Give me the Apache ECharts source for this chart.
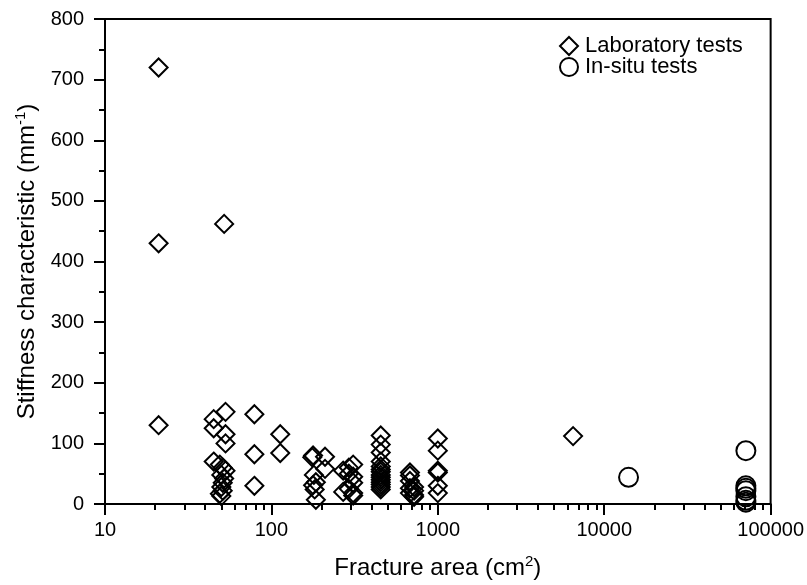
<!DOCTYPE html>
<html>
<head>
<meta charset="utf-8">
<script src="https://cdn.jsdelivr.net/npm/echarts@6/dist/echarts.min.js"></script>
<style>html,body{margin:0;padding:0;background:#fff}#c{width:807px;height:585px}</style>
</head>
<body>
<div id="c"></div>
<script>
// Laboratory tests: fracture area (cm2) and stiffness characteristic (mm-1)
const labArea = [
  21, 21, 21,
  52,
  45, 45, 45,
  53, 53, 53,
  49, 51, 53, 50, 52, 51, 50, 51, 49, 50,
  79, 79, 79,
  113, 113,
  178, 176, 180, 178, 182,
  185, 185,
  210, 210,
  270, 270,
  292, 292, 292,
  310, 310, 310, 310, 310,
  454, 454, 454, 454, 454, 454, 454, 454, 454, 454, 454, 454, 454, 454,
  680, 680, 680, 680, 680,
  720, 720, 720, 720,
  1000, 1000, 1000, 1000, 1000, 1000,
  6500
];
const labStiffness = [
  720, 430, 130,
  462,
  140, 125, 70,
  152, 115, 100,
  65, 60, 55, 48, 42, 35, 28, 22, 17, 13,
  148, 82, 30,
  115, 84,
  80, 77, 48, 31, 24,
  7, 36,
  78, 58,
  55, 20,
  50, 25, 60,
  65, 45, 35, 18, 14,
  113, 98, 85, 70, 62, 57, 53, 48, 44, 40, 36, 32, 28, 24,
  52, 47, 38, 26, 18,
  22, 15, 28, 12,
  108, 88, 55, 52, 30, 18,
  112
];
// In-situ tests
const situArea = [14000, 71000, 71000, 71000, 71000, 71000, 71000, 71000];
const situStiffness = [44, 88, 30, 26, 22, 12, 6, 3];

const seriesNames = ['Laboratory tests', 'In-situ tests'];
const xTickLabels = ['10', '100', '1000', '10000', '100000'];
const yTickLabels = ['0', '100', '200', '300', '400', '500', '600', '700', '800'];

// minor log ticks (2..9 within each decade), in log10 space for the overlay axis
const minorLogTicks = [];
for (let d = 1; d < 5; d++) {
  for (let m = 2; m <= 9; m++) minorLogTicks.push(d + Math.log10(m));
}

const pair = (xs, ys) => xs.map((x, i) => [x, ys[i]]);
const font = 'Liberation Sans, Arial, sans-serif';
const titleRich = {
  a: {fontFamily: font, fontSize: 24, color: '#000', lineHeight: 28},
  s: {fontFamily: font, fontSize: 15, color: '#000', lineHeight: 15, verticalAlign: 'top'}
};
const chart = echarts.init(document.getElementById('c'), null, {renderer: 'canvas'});
chart.setOption({
  animation: false,
  backgroundColor: '#fff',
  grid: {left: 105, right: 35, top: 19, bottom: 81, show: true, borderColor: '#000', borderWidth: 2, backgroundColor: 'transparent'},
  legend: {
    orient: 'vertical', left: 554, top: 30, itemWidth: 18, itemHeight: 18, itemGap: -1,
    data: seriesNames,
    textStyle: {fontFamily: font, fontSize: 22, color: '#000', lineHeight: 18, padding: [0, 0, 0, 2]}
  },
  xAxis: [{
    type: 'log', logBase: 10, min: 10, max: 100000, position: 'bottom',
    name: '{a|Fracture area (cm}{s|2}{a|)}', nameLocation: 'middle', nameGap: 50,
    nameTextStyle: {rich: titleRich},
    axisLine: {show: true, lineStyle: {color: '#000', width: 2}},
    axisTick: {show: true, inside: false, length: 11, lineStyle: {color: '#000', width: 2}},
    minorTick: {show: false},
    splitLine: {show: false},
    axisLabel: {fontFamily: font, fontSize: 20, color: '#000', margin: 16,
      formatter: v => xTickLabels[Math.round(Math.log10(v)) - 1] || ''}
  }, {
    type: 'value', min: 1, max: 5, position: 'bottom',
    axisLine: {show: false},
    axisTick: {show: true, inside: false, length: 6, customValues: minorLogTicks, lineStyle: {color: '#000', width: 2}},
    axisLabel: {show: false},
    splitLine: {show: false}
  }],
  yAxis: {
    type: 'value', min: 0, max: 800, interval: 100,
    name: '{a|Stiffness characteristic (mm}{s|-1}{a|)}', nameLocation: 'middle', nameGap: 64,
    nameTextStyle: {rich: titleRich},
    axisLine: {show: true, lineStyle: {color: '#000', width: 2}},
    axisTick: {show: true, inside: false, length: 11, lineStyle: {color: '#000', width: 2}},
    minorTick: {show: true, splitNumber: 2, length: 6, lineStyle: {color: '#000', width: 2}},
    splitLine: {show: false},
    axisLabel: {fontFamily: font, fontSize: 20, color: '#000', margin: 21,
      formatter: v => yTickLabels[Math.round(v / 100)]}
  },
  series: [{
    name: seriesNames[0], type: 'scatter', xAxisIndex: 0, symbol: 'diamond', symbolSize: 18,
    itemStyle: {color: 'rgba(255,255,255,0)', borderColor: '#000', borderWidth: 2, opacity: 1},
    data: pair(labArea, labStiffness)
  }, {
    name: seriesNames[1], type: 'scatter', xAxisIndex: 0, symbol: 'circle', symbolSize: 19,
    itemStyle: {color: 'rgba(255,255,255,0)', borderColor: '#000', borderWidth: 2, opacity: 1},
    data: pair(situArea, situStiffness)
  }]
});
</script>
</body>
</html>
